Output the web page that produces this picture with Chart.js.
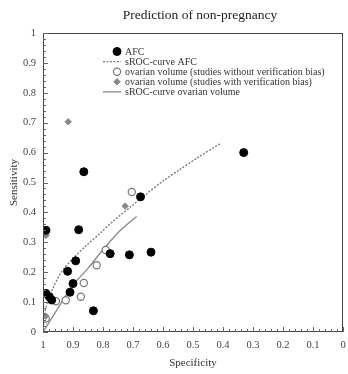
<!DOCTYPE html>
<html>
<head>
<meta charset="utf-8">
<script src="https://cdn.jsdelivr.net/npm/chart.js@4/dist/chart.umd.min.js"></script>
<style>
  html, body { margin: 0; padding: 0; background: #fff; }
  #wrap { width: 348px; height: 374px; }
</style>
</head>
<body>
<div id="wrap"><canvas id="roc-chart"></canvas></div>
<script>
// values (x = specificity, y = sensitivity)
var afcSpec = [0.864, 0.675, 0.99, 0.881, 0.776, 0.712, 0.64, 0.891, 0.918, 0.9, 0.91, 0.99, 0.979, 0.971, 0.832, 0.331];
var afcSens = [0.536, 0.452, 0.34, 0.342, 0.262, 0.258, 0.267, 0.238, 0.203, 0.162, 0.133, 0.129, 0.118, 0.107, 0.071, 0.6];

var volSpec = [0.704, 0.791, 0.821, 0.864, 0.874, 0.924, 0.957, 0.991];
var volSens = [0.468, 0.274, 0.223, 0.164, 0.118, 0.106, 0.103, 0.045];

var volBiasSpec = [0.916, 0.726, 0.99, 0.991];
var volBiasSens = [0.703, 0.421, 0.323, 0.053];

var afcCurveSpec = [1.0, 0.996, 0.985, 0.965, 0.939, 0.906, 0.86, 0.81, 0.767, 0.70, 0.657, 0.6, 0.546, 0.48, 0.408];
var afcCurveSens = [0.0, 0.05, 0.1, 0.15, 0.2, 0.24, 0.285, 0.33, 0.37, 0.425, 0.46, 0.505, 0.542, 0.586, 0.631];

var volCurveSpec = [1.0, 0.95, 0.906, 0.851, 0.796, 0.741, 0.688];
var volCurveSens = [0.0, 0.08, 0.15, 0.212, 0.28, 0.341, 0.386];

var tickValues = [0, 0.1, 0.2, 0.3, 0.4, 0.5, 0.6, 0.7, 0.8, 0.9, 1];

var legendLabels = [
  "AFC",
  "sROC-curve AFC",
  "ovarian volume (studies without verification bias)",
  "ovarian volume (studies with verification bias)",
  "sROC-curve ovarian volume",
];

function pairs(xs, ys) {
  return xs.map(function (x, i) { return { x: x, y: ys[i] }; });
}

var serif = "'Liberation Serif', 'DejaVu Serif', serif";

function fmt(v) {
  if (v === 0) return "0";
  if (v === 1) return "1";
  return v.toFixed(1);
}

// frame, inward ticks, legend and title drawn over the chart
var decorPlugin = {
  id: "decor",
  afterDraw: function (chart) {
    var ctx = chart.ctx;
    var a = chart.chartArea;
    var xs = chart.scales.x, ys = chart.scales.y;
    ctx.save();
    ctx.strokeStyle = "#444";
    ctx.lineWidth = 1;
    ctx.strokeRect(a.left + 0.5, a.top + 0.5, a.right - a.left - 1, a.bottom - a.top - 1);

    ctx.strokeStyle = "#666";
    for (var i = 0; i <= 50; i++) {
      var v = i / 50;
      var len = (i % 5 === 0) ? 5 : 3;
      var px = Math.round(xs.getPixelForValue(v)) + 0.5;
      ctx.beginPath();
      ctx.moveTo(px, a.bottom);
      ctx.lineTo(px, a.bottom - len);
      ctx.stroke();
      var py = Math.round(ys.getPixelForValue(v)) + 0.5;
      ctx.beginPath();
      ctx.moveTo(a.left, py);
      ctx.lineTo(a.left + len, py);
      ctx.stroke();
    }

    // title
    ctx.fillStyle = "#222";
    ctx.font = "13.5px " + serif;
    ctx.textAlign = "center";
    ctx.textBaseline = "middle";
    ctx.fillText("Prediction of non-pregnancy", 200, 15);

    // legend
    var sets = chart.data.datasets;
    var mx = 117, tx = 125, y0 = 51.5, dy = 10.1;
    ctx.font = "10px " + serif;
    ctx.textAlign = "left";
    for (var k = 0; k < sets.length; k++) {
      var ds = sets[k];
      var yy = y0 + k * dy;
      ctx.save();
      ctx.strokeStyle = ds.borderColor;
      ctx.fillStyle = ds.backgroundColor;
      ctx.lineWidth = ds.borderWidth;
      if (ds.showLine) {
        ctx.setLineDash(ds.borderDash || []);
        ctx.beginPath();
        ctx.moveTo(103, yy);
        ctx.lineTo(121, yy);
        ctx.stroke();
      } else {
        var r = ds.pointRadius;
        ctx.beginPath();
        if (ds.pointStyle === "rectRot") {
          ctx.moveTo(mx, yy - r); ctx.lineTo(mx + r, yy); ctx.lineTo(mx, yy + r); ctx.lineTo(mx - r, yy); ctx.closePath();
        } else {
          ctx.arc(mx, yy, r, 0, Math.PI * 2);
        }
        ctx.fill();
        ctx.stroke();
      }
      ctx.restore();
      ctx.fillStyle = "#333";
      ctx.fillText(legendLabels[k], tx, yy + 0.5);
    }
    ctx.restore();
  },
};

var config = {
  type: "scatter",
  data: {
    datasets: [
      {
        label: legendLabels[0],
        data: pairs(afcSpec, afcSens),
        pointStyle: "circle",
        pointRadius: 4,
        pointHoverRadius: 4,
        backgroundColor: "#000",
        borderColor: "#000",
        borderWidth: 1,
        order: 1,
      },
      {
        label: legendLabels[1],
        data: pairs(afcCurveSpec, afcCurveSens),
        showLine: true,
        pointRadius: 0,
        borderColor: "#777",
        borderWidth: 1.3,
        borderDash: [2, 1.5],
        backgroundColor: "#777",
        tension: 0.3,
        order: 5,
      },
      {
        label: legendLabels[2],
        data: pairs(volSpec, volSens),
        pointStyle: "circle",
        pointRadius: 3.6,
        pointHoverRadius: 3.6,
        backgroundColor: "#fff",
        borderColor: "#777",
        borderWidth: 1.2,
        order: 3,
      },
      {
        label: legendLabels[3],
        data: pairs(volBiasSpec, volBiasSens),
        pointStyle: "rectRot",
        pointRadius: 3.2,
        pointHoverRadius: 3.2,
        backgroundColor: "#888",
        borderColor: "#888",
        borderWidth: 1,
        order: 2,
      },
      {
        label: legendLabels[4],
        data: pairs(volCurveSpec, volCurveSens),
        showLine: true,
        pointRadius: 0,
        borderColor: "#888",
        borderWidth: 1.3,
        backgroundColor: "#888",
        tension: 0.3,
        order: 4,
      },
    ],
  },
  options: {
    responsive: true,
    maintainAspectRatio: false,
    animation: false,
    layout: { padding: { top: 33, right: 3, left: 0, bottom: 0 } },
    plugins: {
      legend: { display: false },
      title: { display: false },
      tooltip: { enabled: false },
    },
    scales: {
      x: {
        type: "linear",
        reverse: true,
        min: 0,
        max: 1,
        afterFit: function (s) { s.height = 42; },
        afterBuildTicks: function (s) {
          s.ticks = tickValues.map(function (v) { return { value: v }; });
        },
        grid: { display: false, drawTicks: false },
        border: { display: false },
        ticks: {
          padding: 7,
          color: "#444",
          maxRotation: 0,
          font: { family: serif, size: 10.5 },
          callback: function (v) { return fmt(v); },
        },
        title: {
          display: true,
          text: "Specificity",
          color: "#333",
          font: { family: serif, size: 11 },
          padding: { top: 4, bottom: 4 },
        },
      },
      y: {
        type: "linear",
        min: 0,
        max: 1,
        afterFit: function (s) { s.width = 43; },
        afterBuildTicks: function (s) {
          s.ticks = tickValues.map(function (v) { return { value: v }; });
        },
        grid: { display: false, drawTicks: false },
        border: { display: false },
        ticks: {
          padding: 7,
          color: "#444",
          font: { family: serif, size: 10.5 },
          callback: function (v) { return fmt(v); },
        },
        title: {
          display: true,
          text: "Sensitivity",
          color: "#333",
          font: { family: serif, size: 11 },
          padding: { top: 8, bottom: 4 },
        },
      },
    },
  },
  plugins: [decorPlugin],
};

var ctxOne = document.getElementById("roc-chart").getContext("2d");
new Chart(ctxOne, config);
</script>
</body>
</html>
